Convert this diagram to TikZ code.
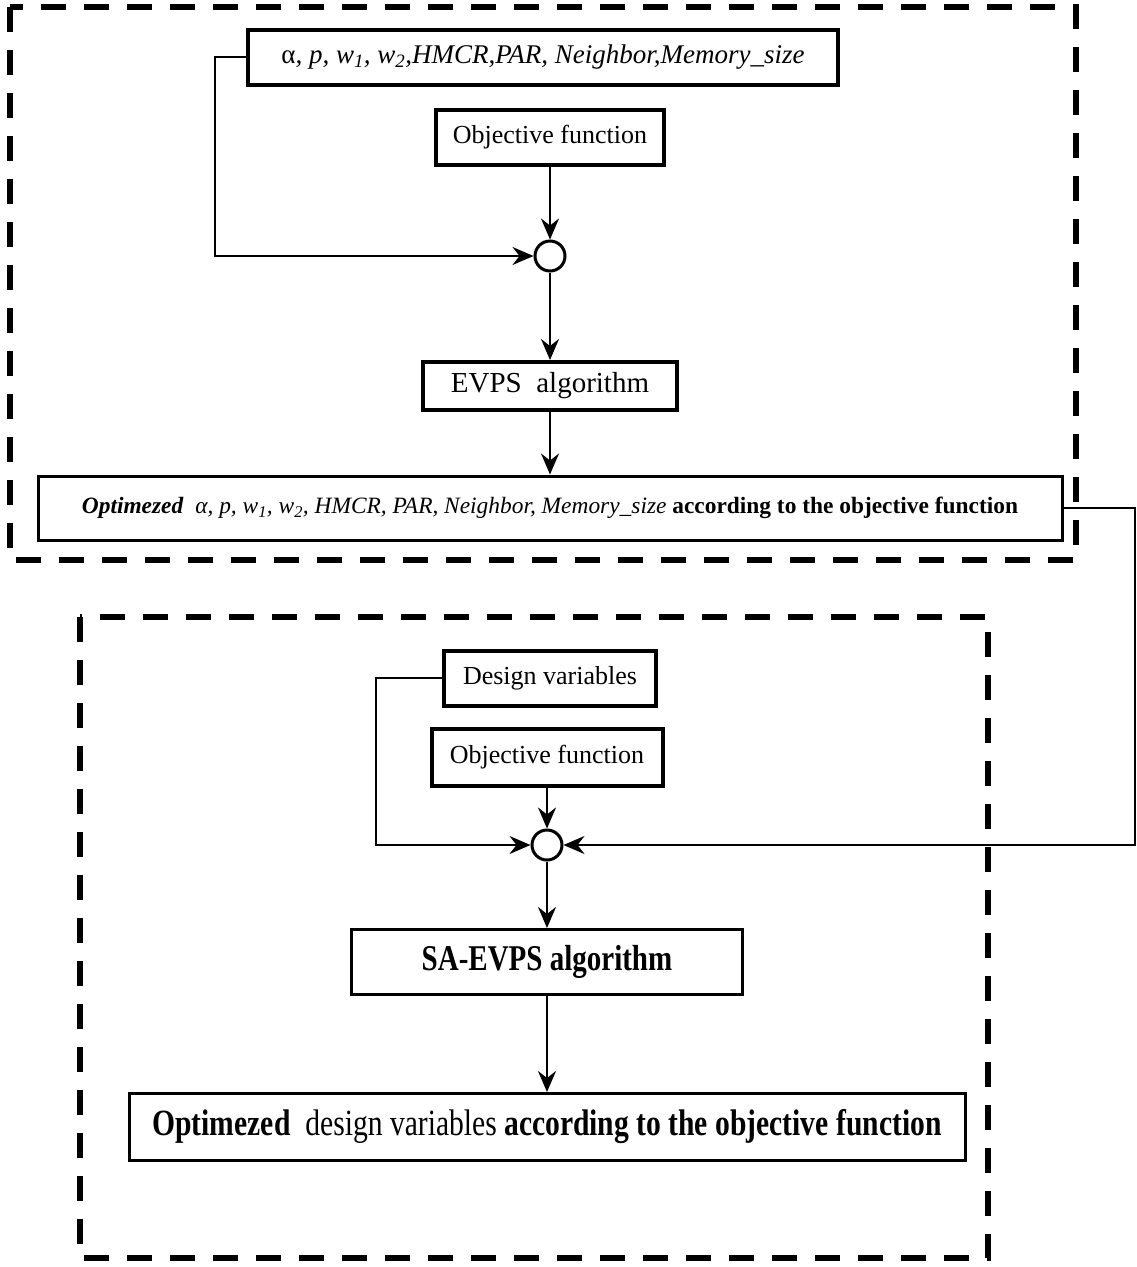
\documentclass[tikz,border=0pt]{standalone}
\usepackage{fontspec}
\setmainfont{Liberation Serif}
\usetikzlibrary{arrows.meta}
\newcommand{\fs}[1]{\fontsize{#1}{#1}\selectfont}
\newcommand{\tallish}[1]{\scalebox{1}[1.25]{#1}}
\begin{document}
\begin{tikzpicture}[x=1pt,y=-1pt,
  box/.style={draw, line width=4pt, inner sep=0pt, align=center},
  thinbox/.style={draw, line width=3pt, inner sep=0pt, align=center},
  junction/.style={draw, circle, line width=3pt, minimum size=30pt, inner sep=0pt},
  conn/.style={line width=2pt, -{Stealth[length=21pt,width=18pt,inset=7pt]}},
  group/.style={line width=6pt, dash pattern=on 25pt off 18pt}]
\useasboundingbox (0,0) rectangle (1137,1267);

% group frames
\draw[group] (10,7) rectangle (1076,560);
\draw[group] (80,617) rectangle (988,1258);

% top part
\node[box, minimum width=590pt, minimum height=55pt] (params) at (543,57)
  {\fs{27}\itshape \textup{α}, p, w\textsubscript{1}, w\textsubscript{2},HMCR,PAR, Neighbor,Memory\_size};
\node[box, minimum width=228pt, minimum height=55pt] (obj1) at (550,137)
  {\fs{26}Objective function};
\node[junction] (c1) at (550,256) {};
\node[box, minimum width=254pt, minimum height=48pt] (evps) at (550,386)
  {\fs{29}EVPS\ \ algorithm};
\node[thinbox, minimum width=1024pt, minimum height=64pt] (opt1) at (550,508)
  {\fs{23.4}\textbf{\textit{Optimezed}}\ \ \textit{α, p, w\textsubscript{1}, w\textsubscript{2}, HMCR, PAR, Neighbor, Memory\_size} \textbf{according to the objective function}};

\coordinate (lx) at (215,0);
\coordinate (rx) at (1135,0);

\draw[conn] (params.west) -- (params.west -| lx) |- (c1.west);
\draw[conn] (obj1) -- (c1);
\draw[conn] (c1) -- (evps);
\draw[conn] (evps) -- (opt1);

% bottom part
\node[box, minimum width=212pt, minimum height=55pt] (design) at (550,678)
  {\fs{26}Design variables};
\node[box, minimum width=231pt, minimum height=57pt] (obj2) at (547,757)
  {\fs{26}Objective function};
\node[junction] (c2) at (547,845) {};
\node[thinbox, minimum width=391pt, minimum height=65pt] (sa) at (547,962)
  {\tallish{\fs{29}\textbf{SA-EVPS algorithm}}};
\node[thinbox, minimum width=836pt, minimum height=67pt] (fin) at (547,1127)
  {\tallish{\fs{29.6}\textbf{Optimezed}\ \ design variables \textbf{according to the objective function}}};

\coordinate (lx2) at (376,0);
\draw[conn] (design.west) -- (design.west -| lx2) |- (c2.west);
\draw[conn] (obj2) -- (c2);
\draw[conn] (opt1.east) -- (opt1.east -| rx) |- (c2.east);
\draw[conn] (c2) -- (sa);
\draw[conn] (sa) -- (fin);
\end{tikzpicture}
\end{document}
